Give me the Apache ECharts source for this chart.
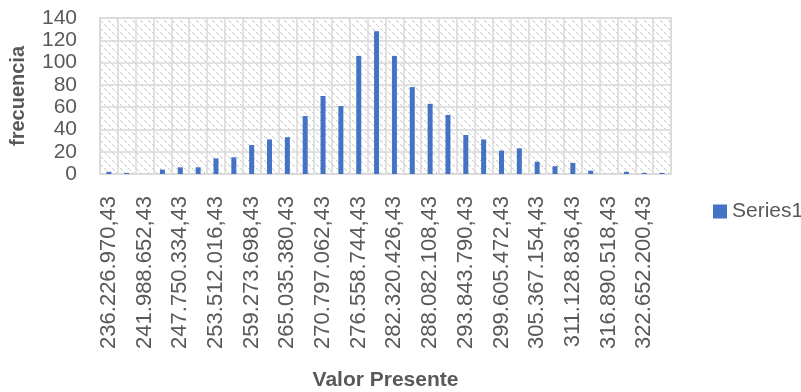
<!DOCTYPE html>
<html>
<head>
<meta charset="utf-8">
<script src="https://cdn.jsdelivr.net/npm/echarts@6/dist/echarts.min.js"></script>
<style>
  html, body { margin: 0; padding: 0; background: #fff; }
  #chart { width: 801px; height: 392px; }
</style>
</head>
<body>
<div id="chart"></div>
<script>
var categories = [
  '236.226.970,43', '239.107.811,43', '241.988.652,43', '244.869.493,43',
  '247.750.334,43', '250.631.175,43', '253.512.016,43', '256.392.857,43',
  '259.273.698,43', '262.154.539,43', '265.035.380,43', '267.916.221,43',
  '270.797.062,43', '273.677.903,43', '276.558.744,43', '279.439.585,43',
  '282.320.426,43', '285.201.267,43', '288.082.108,43', '290.962.949,43',
  '293.843.790,43', '296.724.631,43', '299.605.472,43', '302.486.313,43',
  '305.367.154,43', '308.247.995,43', '311.128.836,43', '314.009.677,43',
  '316.890.518,43', '319.771.359,43', '322.652.200,43', '325.533.041,43'
];
var frecuencia = [
  2, 1, 0, 4, 6, 6, 14, 15, 26, 31, 33, 52, 70, 61, 106, 128,
  106, 78, 63, 53, 35, 31, 21, 23, 11, 7, 10, 3, 0, 2, 1, 1
];
var yTicks = { min: 0, max: 140, step: 20 };

// light dashed downward-diagonal hatch, like the Excel plot area fill
function hatchPattern() {
  var c = document.createElement('canvas');
  c.width = 8;
  c.height = 8;
  var ctx = c.getContext('2d');
  ctx.fillStyle = '#ffffff';
  ctx.fillRect(0, 0, 8, 8);
  ctx.fillStyle = '#c6c6c6';
  for (var i = 0; i < 8; i++) {
    if (i % 4 === 3) continue;
    ctx.fillRect(i, i, 1, 1);
  }
  return c;
}

var textColor = '#595959';
var font = 'Liberation Sans';

var myChart = echarts.init(document.getElementById('chart'));
var option = {
  animation: false,
  textStyle: { fontFamily: font },
  grid: {
    left: 100,
    right: 130,
    top: 18,
    bottom: 215,
    show: true,
    backgroundColor: { image: hatchPattern(), repeat: 'repeat' },
    borderColor: '#d9d9d9',
    borderWidth: 1.5
  },
  legend: {
    left: 708,
    top: 196,
    itemWidth: 14,
    itemHeight: 14,
    itemGap: 5,
    icon: 'rect',
    textStyle: { color: textColor, fontSize: 21, fontFamily: font },
    data: ['Series1']
  },
  xAxis: {
    type: 'category',
    data: categories,
    name: 'Valor Presente',
    nameLocation: 'middle',
    nameGap: 196,
    nameTextStyle: { color: textColor, fontSize: 21, fontWeight: 'bold', fontFamily: font },
    axisLine: { show: false },
    axisTick: { show: false },
    axisLabel: {
      interval: 1,
      rotate: 90,
      margin: 22,
      color: textColor,
      fontSize: 22,
      fontFamily: font
    },
    splitLine: {
      show: true,
      interval: 0,
      lineStyle: { color: '#d9d9d9', width: 1.5 }
    }
  },
  yAxis: {
    type: 'value',
    min: yTicks.min,
    max: yTicks.max,
    interval: yTicks.step,
    name: 'frecuencia',
    nameLocation: 'middle',
    nameGap: 72,
    nameTextStyle: { color: textColor, fontSize: 20, fontWeight: 'bold', fontFamily: font },
    axisLine: { show: false },
    axisTick: { show: false },
    axisLabel: { color: textColor, fontSize: 21, margin: 23, fontFamily: font },
    splitLine: { lineStyle: { color: '#d9d9d9', width: 1.5 } }
  },
  series: [{
    name: 'Series1',
    type: 'bar',
    barWidth: 5,
    itemStyle: { color: '#4472C4' },
    data: frecuencia
  }]
};
myChart.setOption(option);
</script>
</body>
</html>
